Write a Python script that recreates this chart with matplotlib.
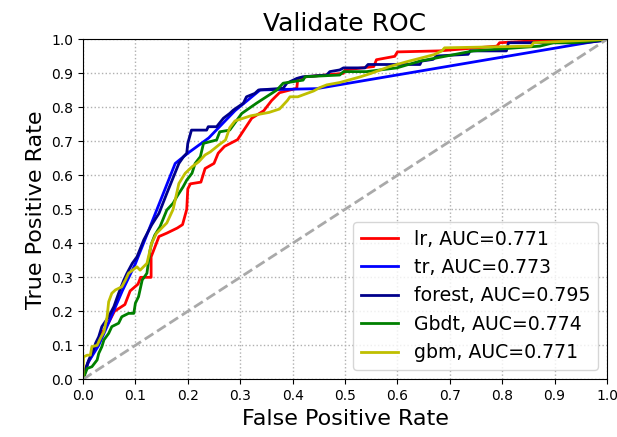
import matplotlib
matplotlib.use("Agg")
import matplotlib.pyplot as plt

# ---- data (fpr, tpr) ----
lr_fpr = [0, 0.005, 0.01, 0.02, 0.03, 0.05, 0.06, 0.08, 0.09, 0.105, 0.11, 0.13, 0.13, 0.145, 0.16, 0.18, 0.19,
          0.198, 0.20, 0.205, 0.225, 0.233, 0.25, 0.258, 0.27, 0.295, 0.322, 0.345, 0.36, 0.375, 0.408, 0.41,
          0.427, 0.497, 0.50, 0.555, 0.56, 0.595, 0.60, 0.68, 0.79, 0.795, 0.855, 1.0]
lr_tpr = [0, 0.03, 0.05, 0.08, 0.12, 0.17, 0.20, 0.22, 0.26, 0.28, 0.30, 0.30, 0.36, 0.42, 0.43, 0.445, 0.455,
          0.50, 0.56, 0.575, 0.58, 0.62, 0.635, 0.665, 0.685, 0.705, 0.768, 0.79, 0.82, 0.843, 0.856, 0.885,
          0.89, 0.90, 0.91, 0.92, 0.94, 0.95, 0.963, 0.966, 0.98, 0.99, 0.995, 1.0]

tr_fpr = [0, 0.01, 0.03, 0.05, 0.075, 0.10, 0.176, 0.20, 0.24, 0.29, 0.338, 0.446, 1.0]
tr_tpr = [0, 0.05, 0.10, 0.17, 0.26, 0.34, 0.635, 0.665, 0.71, 0.79, 0.851, 0.855, 1.0]

forest_fpr = [0, 0.004, 0.011, 0.02, 0.024, 0.03, 0.036, 0.049, 0.059, 0.068, 0.078, 0.084, 0.094, 0.103,
              0.116, 0.131, 0.145, 0.16, 0.183, 0.192, 0.198, 0.20, 0.207, 0.236, 0.239, 0.255, 0.268, 0.28,
              0.287, 0.306, 0.312, 0.328, 0.335, 0.382, 0.389, 0.408, 0.42, 0.465, 0.471, 0.49, 0.497, 0.538,
              0.544, 0.643, 0.646, 0.668, 0.675, 0.735, 0.739, 0.808, 0.812, 0.955, 0.987, 1.0]
forest_tpr = [0, 0.027, 0.057, 0.086, 0.106, 0.125, 0.155, 0.184, 0.214, 0.253, 0.292, 0.312, 0.341, 0.36,
              0.41, 0.454, 0.488, 0.547, 0.635, 0.655, 0.665, 0.694, 0.733, 0.733, 0.743, 0.743, 0.768, 0.782,
              0.792, 0.812, 0.831, 0.841, 0.851, 0.856, 0.871, 0.885, 0.89, 0.895, 0.905, 0.91, 0.916, 0.916,
              0.926, 0.926, 0.936, 0.941, 0.951, 0.956, 0.966, 0.966, 0.99, 0.99, 0.995, 1.0]

gbdt_fpr = [0, 0.008, 0.017, 0.027, 0.03, 0.036, 0.04, 0.049, 0.055, 0.068, 0.074, 0.087, 0.097, 0.10, 0.106,
            0.113, 0.122, 0.128, 0.131, 0.137, 0.147, 0.16, 0.172, 0.179, 0.191, 0.198, 0.208, 0.214, 0.224,
            0.23, 0.255, 0.261, 0.28, 0.303, 0.331, 0.35, 0.37, 0.382, 0.42, 0.424, 0.49, 0.497, 0.541, 0.599,
            0.643, 0.745, 0.872, 0.898, 0.935, 1.0]
gbdt_tpr = [0, 0.032, 0.037, 0.057, 0.076, 0.096, 0.116, 0.135, 0.155, 0.165, 0.184, 0.194, 0.194, 0.224, 0.243,
            0.292, 0.312, 0.38, 0.40, 0.424, 0.449, 0.498, 0.518, 0.537, 0.566, 0.586, 0.606, 0.635, 0.655,
            0.694, 0.704, 0.728, 0.733, 0.782, 0.812, 0.831, 0.851, 0.871, 0.88, 0.89, 0.895, 0.905, 0.905,
            0.916, 0.936, 0.966, 0.98, 0.99, 0.99, 1.0]

gbm_fpr = [0, 0.001, 0.008, 0.014, 0.017, 0.027, 0.033, 0.04, 0.046, 0.049, 0.055, 0.062, 0.074, 0.081, 0.087,
           0.103, 0.109, 0.122, 0.131, 0.14, 0.16, 0.172, 0.183, 0.195, 0.208, 0.221, 0.233, 0.243, 0.259,
           0.272, 0.28, 0.29, 0.32, 0.355, 0.375, 0.39, 0.395, 0.41, 0.44, 0.452, 0.465, 0.49, 0.53, 0.55,
           0.585, 0.62, 0.67, 0.685, 0.69, 0.855, 0.86, 1.0]
gbm_tpr = [0, 0.066, 0.071, 0.071, 0.096, 0.10, 0.12, 0.14, 0.184, 0.228, 0.253, 0.263, 0.272, 0.292, 0.312,
           0.331, 0.321, 0.341, 0.40, 0.429, 0.46, 0.50, 0.576, 0.606, 0.625, 0.64, 0.66, 0.669, 0.689,
           0.704, 0.74, 0.76, 0.775, 0.785, 0.795, 0.82, 0.831, 0.831, 0.848, 0.858, 0.866, 0.873, 0.89, 0.90,
           0.92, 0.935, 0.955, 0.966, 0.975, 0.98, 0.99, 1.0]

labels = ["lr, AUC=0.771", "tr, AUC=0.773", "forest, AUC=0.795", "Gbdt, AUC=0.774", "gbm, AUC=0.771"]
colors = ["r", "b", "darkblue", "g", "y"]
ticks = [0.0, 0.1, 0.2, 0.3, 0.4, 0.5, 0.6, 0.7, 0.8, 0.9, 1.0]

fig = plt.figure(figsize=(6.17, 4.37), dpi=100)
ax = fig.add_axes([0.1345, 0.132, 0.8493, 0.778])

series = [(lr_fpr, lr_tpr), (tr_fpr, tr_tpr), (forest_fpr, forest_tpr), (gbdt_fpr, gbdt_tpr), (gbm_fpr, gbm_tpr)]
for (fx, ty), lab, col in zip(series, labels, colors):
    ax.plot(fx, ty, color=col, lw=2, label=lab)

ax.plot([0, 1], [0, 1], color="darkgrey", lw=2, linestyle="--")

ax.set_xlim(0, 1)
ax.set_ylim(0, 1)
ax.set_xticks(ticks)
ax.set_yticks(ticks)
ax.set_xticklabels([f"{t:.1f}" for t in ticks], fontsize=10)
ax.set_yticklabels([f"{t:.1f}" for t in ticks], fontsize=10)
ax.grid(True, linestyle=":", color="#b0b0b0", lw=1)
ax.set_title("Validate ROC", fontsize=18)
ax.set_xlabel("False Positive Rate", fontsize=16)
ax.set_ylabel("True Positive Rate", fontsize=16)
ax.legend(loc="lower right", fontsize=13.6)

fig.savefig("out.png", dpi=100)
